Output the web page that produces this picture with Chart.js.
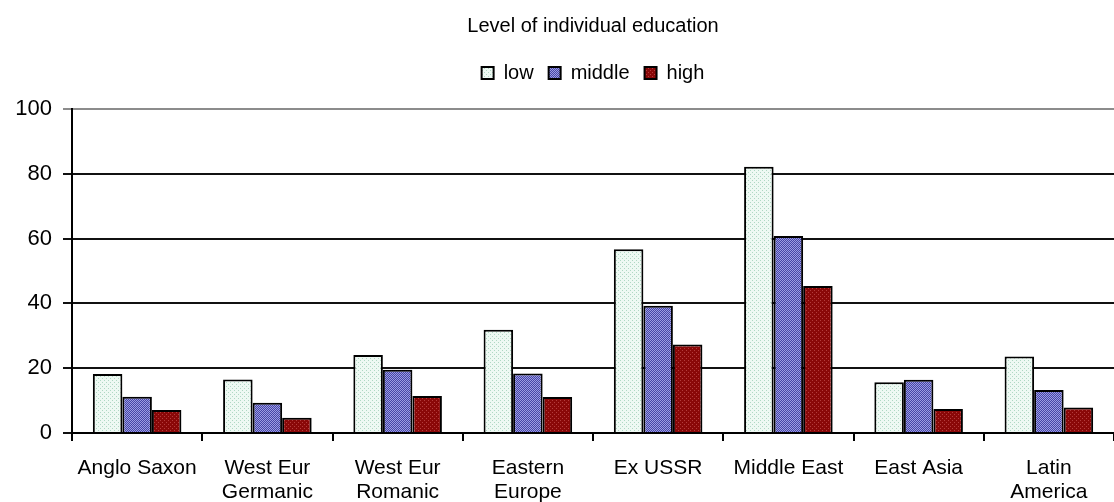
<!DOCTYPE html>
<html>
<head>
<meta charset="utf-8">
<script src="https://cdn.jsdelivr.net/npm/chart.js@4"></script>
<style>
  html, body { margin: 0; padding: 0; background: #fff; }
  #wrap { width: 1114px; height: 502px; }
</style>
</head>
<body>
<div id="wrap"><canvas id="chart"></canvas></div>
<script>
// Data
const regions = [
    ['Anglo Saxon'], ['West Eur', 'Germanic'], ['West Eur', 'Romanic'], ['Eastern', 'Europe'],
    ['Ex USSR'], ['Middle East'], ['East Asia'], ['Latin', 'America']
];
const lowEdu = [18.2, 16.5, 24.1, 31.9, 56.7, 82.2, 15.7, 23.6];
const middleEdu = [11.2, 9.3, 19.5, 18.4, 39.3, 60.8, 16.4, 13.3];
const highEdu = [7.1, 4.7, 11.4, 11.1, 27.3, 45.4, 7.4, 7.9];
const yTicks = [0, 20, 40, 60, 80, 100];

// Small texture patterns like the old Excel fills
function makePattern(bg, fg, kind) {
    const c = document.createElement('canvas');
    c.width = 4; c.height = 4;
    const g = c.getContext('2d');
    g.fillStyle = bg;
    g.fillRect(0, 0, 4, 4);
    g.fillStyle = fg;
    if (kind === 'hatch') {
        for (let i = 0; i < 4; i++) g.fillRect(i, (i + 1) % 4, 1, 1);
        for (let i = 0; i < 4; i++) g.fillRect(i, (i + 3) % 4, 1, 1);
    } else {
        g.fillRect(0, 0, 1, 1);
        g.fillRect(2, 2, 1, 1);
    }
    return g.createPattern(c, 'repeat');
}

const lowFill = makePattern('#eef9f3', '#b0d8c4', 'dots');
const middleFill = makePattern('#9c9ce4', '#4646a6', 'hatch');
const highFill = makePattern('#8a0808', '#b43c3c', 'dots');

const font = "'Liberation Sans', Arial, sans-serif";

// extra room under the legend before the plot starts
const legendGap = {
    id: 'legendGap',
    beforeInit(chart) {
        const fit = chart.legend.fit;
        chart.legend.fit = function() {
            fit.call(this);
            this.height += 16;
        };
    }
};

const ctx = document.getElementById('chart').getContext('2d');
new Chart(ctx, {
    type: 'bar',
    data: {
        labels: regions,
        datasets: [
            { label: 'low', data: lowEdu, backgroundColor: lowFill, borderColor: '#000', borderWidth: 2 },
            { label: 'middle', data: middleEdu, backgroundColor: middleFill, borderColor: '#000', borderWidth: 2 },
            { label: 'high', data: highEdu, backgroundColor: highFill, borderColor: '#000', borderWidth: 2 }
        ]
    },
    plugins: [legendGap],
    options: {
        responsive: true,
        maintainAspectRatio: false,
        animation: false,
        layout: { padding: { left: 0, right: 0, top: 4, bottom: 0 } },
        datasets: {
            bar: { categoryPercentage: 0.68, barPercentage: 1.0 }
        },
        plugins: {
            title: {
                display: true,
                text: 'Level of individual education',
                fullSize: false,
                color: '#000',
                font: { family: font, size: 20, weight: 'normal' },
                padding: { top: 10, bottom: 10 }
            },
            legend: {
                display: true,
                fullSize: false,
                labels: {
                    color: '#000',
                    font: { family: font, size: 20 },
                    boxWidth: 12,
                    boxHeight: 12,
                    padding: 15
                }
            },
            tooltip: { enabled: false }
        },
        scales: {
            x: {
                afterFit: function(scale) { scale.height = 69; },
                grid: {
                    display: true,
                    drawOnChartArea: false,
                    drawTicks: true,
                    tickLength: 8,
                    color: '#000',
                    lineWidth: 2
                },
                border: { display: true, color: '#000', width: 2 },
                ticks: {
                    color: '#000',
                    font: { family: font, size: 21, lineHeight: 1.15 },
                    maxRotation: 0,
                    autoSkip: false,
                    padding: 15
                }
            },
            y: {
                min: 0,
                max: 100,
                afterFit: function(scale) { scale.width = 72; },
                afterBuildTicks: function(scale) {
                    scale.ticks = yTicks.map(v => ({ value: v }));
                },
                grid: {
                    color: ctx => (ctx.tick && ctx.tick.value === 100) ? '#8c8c8c' : '#111',
                    lineWidth: 2,
                    tickLength: 9
                },
                border: { display: true, color: '#000', width: 2 },
                ticks: {
                    color: '#000',
                    font: { family: font, size: 22 },
                    padding: 11
                }
            }
        }
    }
});
</script>
</body>
</html>
